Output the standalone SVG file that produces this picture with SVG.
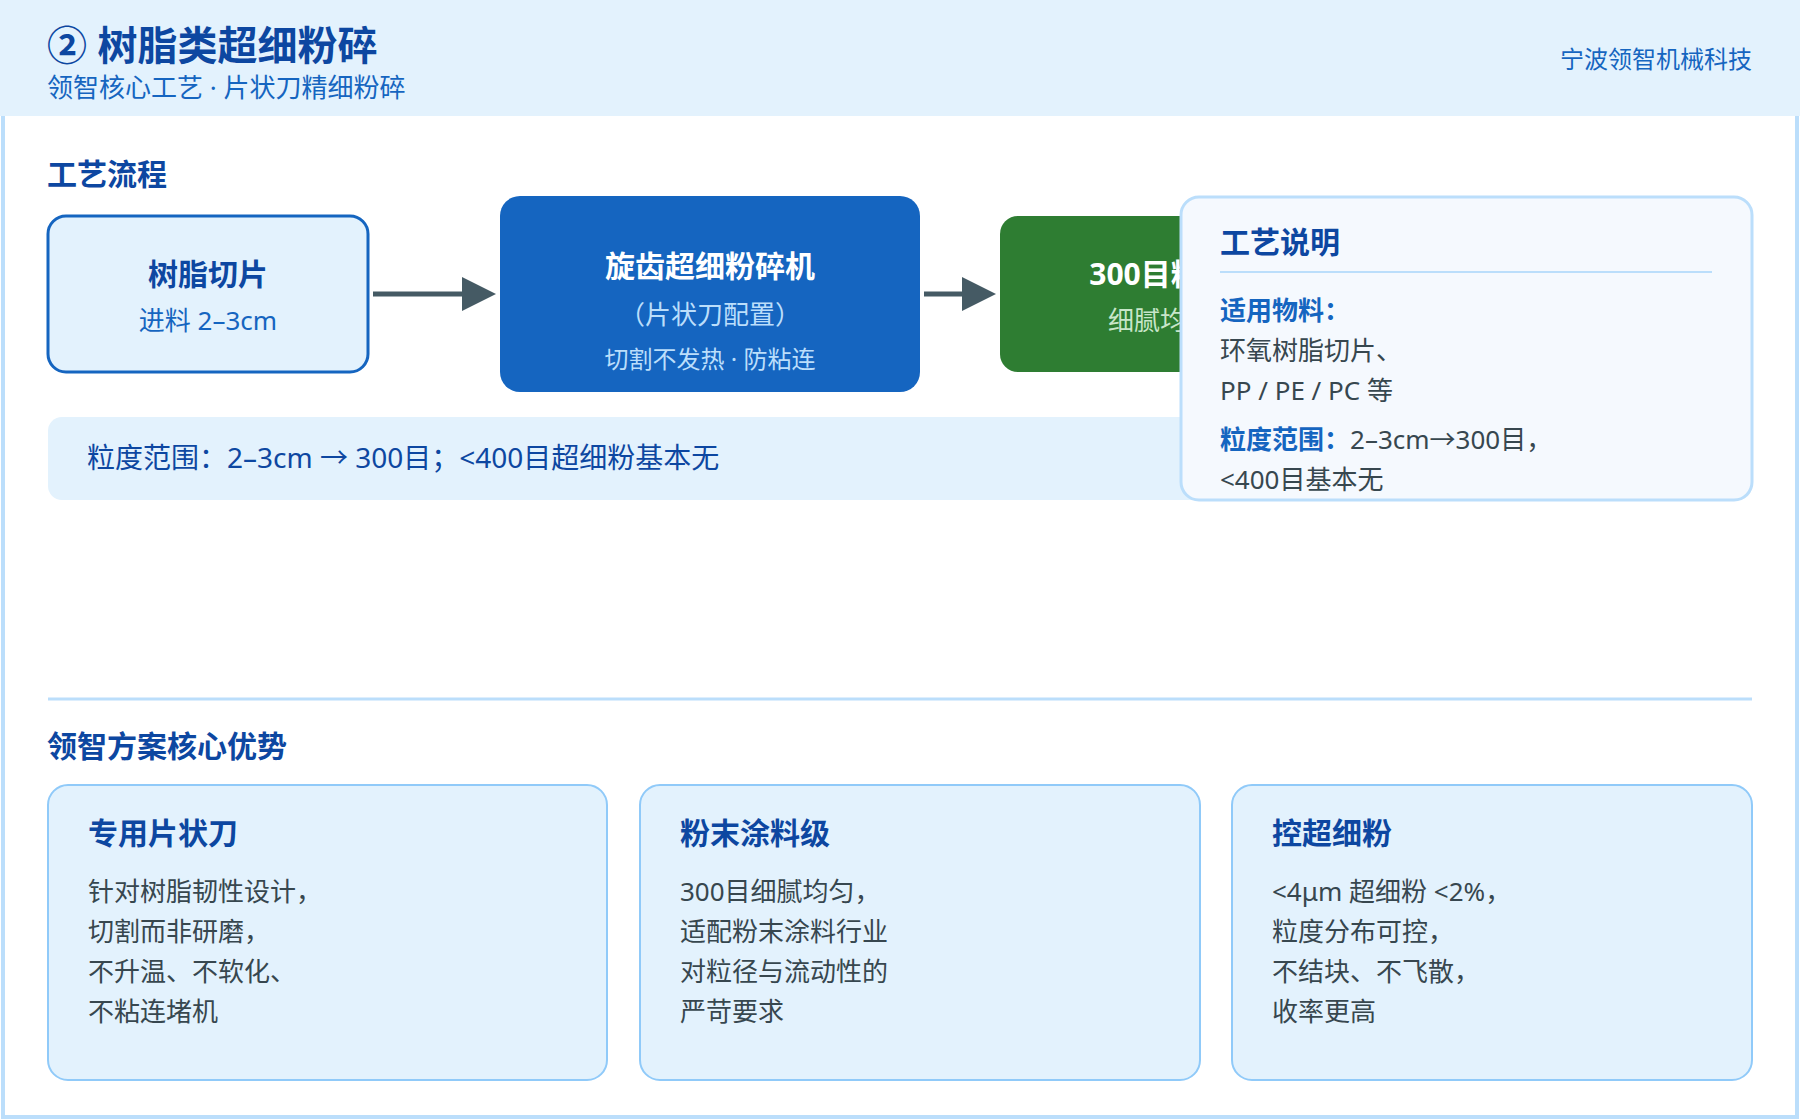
<svg xmlns="http://www.w3.org/2000/svg" width="1800" height="1120" viewBox="0 0 1800 1120">
<style>
text{font-family:"Noto Sans","Noto Sans CJK SC",sans-serif}
.h{fill:#0D47A1;font-weight:700}
.sec{fill:#0D47A1;font-weight:700;font-size:30px}
.body{fill:#37474F;font-size:26px}
.lbl{fill:#1565C0;font-weight:700;font-size:26px}
.card{fill:#E3F2FD;stroke:#90CAF9;stroke-width:2}
.conn{stroke:#455A64;stroke-width:5;fill:none}
</style>
<defs>
<marker id="ah" markerUnits="userSpaceOnUse" markerWidth="36" markerHeight="36" refX="2" refY="18" orient="auto">
<path d="M0,1 L34,18 L0,35 Z" fill="#455A64"/>
</marker>
</defs>
<rect x="0" y="0" width="1800" height="1120" fill="#FFFFFF"/>
<rect id="panel" x="3" y="90" width="1794" height="1027" fill="#FFFFFF" stroke="#BBDEFB" stroke-width="4"/>
<g id="header">
<rect x="0" y="0" width="1800" height="116" fill="#E3F2FD"/>
<text x="47" y="60" class="h" font-size="40">② 树脂类超细粉碎</text>
<text x="47" y="97" fill="#1565C0" font-size="26">领智核心工艺 · 片状刀精细粉碎</text>
<text x="1752" y="68" fill="#1565C0" font-size="24" text-anchor="end">宁波领智机械科技</text>
</g>
<text x="47" y="185" class="sec">工艺流程</text>
<g id="connectors">
<line x1="373" y1="294" x2="464" y2="294" class="conn" marker-end="url(#ah)"/>
<line x1="924" y1="294" x2="964" y2="294" class="conn" marker-end="url(#ah)"/>
</g>
<g id="node-resin">
<rect x="48" y="216" width="320" height="156" rx="18" fill="#E3F2FD" stroke="#1565C0" stroke-width="3"/>
<text x="208" y="285" class="h" font-size="30" text-anchor="middle">树脂切片</text>
<text x="208" y="330" fill="#1565C0" font-size="26" text-anchor="middle">进料 2–3cm</text>
</g>
<g id="node-mill">
<rect x="500" y="196" width="420" height="196" rx="20" fill="#1565C0"/>
<text x="710" y="277" fill="#FFFFFF" font-weight="700" font-size="30" text-anchor="middle">旋齿超细粉碎机</text>
<text x="710" y="324" fill="#BBDEFB" font-size="26" text-anchor="middle">（片状刀配置）</text>
<text x="710" y="368" fill="#BBDEFB" font-size="24" text-anchor="middle">切割不发热 · 防粘连</text>
</g>
<g id="node-powder">
<rect x="1000" y="216" width="320" height="156" rx="18" fill="#2E7D32"/>
<text x="1160" y="285" fill="#FFFFFF" font-weight="700" font-size="30" text-anchor="middle">300目粉末</text>
<text x="1160" y="330" fill="#C8E6C9" font-size="26" text-anchor="middle">细腻均匀</text>
</g>
<g id="range-bar">
<rect x="48" y="417" width="1704" height="83" rx="14" fill="#E3F2FD"/>
<text x="87" y="468" fill="#0D47A1" font-size="28">粒度范围：2–3cm → 300目；&lt;400目超细粉基本无</text>
</g>
<g id="info-card">
<rect x="1181" y="197" width="571" height="303" rx="18" fill="#F5F9FE" stroke="#BBDEFB" stroke-width="3"/>
<text x="1220" y="253" class="h" font-size="30">工艺说明</text>
<line x1="1220" y1="272" x2="1712" y2="272" stroke="#BBDEFB" stroke-width="2"/>
<text x="1220" y="320" class="lbl">适用物料：</text>
<text x="1220" y="360" class="body">环氧树脂切片、</text>
<text x="1220" y="400" class="body">PP / PE / PC 等</text>
<text x="1220" y="449" class="body"><tspan class="lbl">粒度范围：</tspan>2–3cm→300目，</text>
<text x="1220" y="489" class="body">&lt;400目基本无</text>
</g>
<line x1="48" y1="699" x2="1752" y2="699" stroke="#BBDEFB" stroke-width="3"/>
<text x="47" y="757" class="sec">领智方案核心优势</text>
<g id="adv-1">
<rect x="48" y="785" width="559" height="295" rx="20" class="card"/>
<text x="88" y="844" class="h" font-size="30">专用片状刀</text>
<text x="88" y="901" class="body">针对树脂韧性设计，</text>
<text x="88" y="941" class="body">切割而非研磨，</text>
<text x="88" y="981" class="body">不升温、不软化、</text>
<text x="88" y="1021" class="body">不粘连堵机</text>
</g>
<g id="adv-2">
<rect x="640" y="785" width="560" height="295" rx="20" class="card"/>
<text x="680" y="844" class="h" font-size="30">粉末涂料级</text>
<text x="680" y="901" class="body">300目细腻均匀，</text>
<text x="680" y="941" class="body">适配粉末涂料行业</text>
<text x="680" y="981" class="body">对粒径与流动性的</text>
<text x="680" y="1021" class="body">严苛要求</text>
</g>
<g id="adv-3">
<rect x="1232" y="785" width="520" height="295" rx="20" class="card"/>
<text x="1272" y="844" class="h" font-size="30">控超细粉</text>
<text x="1272" y="901" class="body">&lt;4μm 超细粉 &lt;2%，</text>
<text x="1272" y="941" class="body">粒度分布可控，</text>
<text x="1272" y="981" class="body">不结块、不飞散，</text>
<text x="1272" y="1021" class="body">收率更高</text>
</g>
</svg>
